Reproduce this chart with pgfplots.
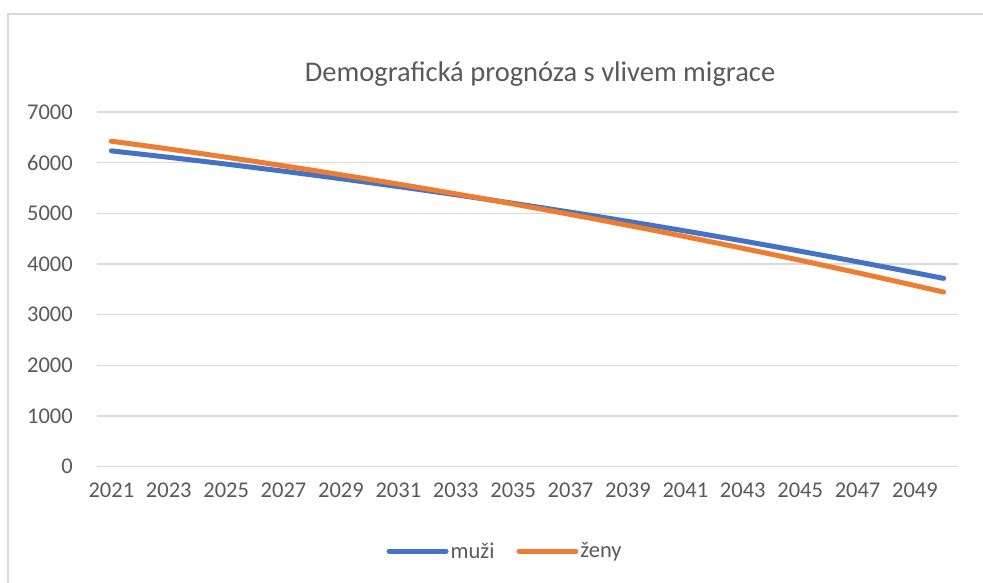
\documentclass[border=0pt]{standalone}
\usepackage{fontspec}
\setmainfont{Carlito}
\usepackage{pgfplots}
\pgfplotsset{compat=1.18}
\definecolor{muzi}{HTML}{4472C4}
\definecolor{zeny}{HTML}{ED7D31}
\definecolor{gridc}{HTML}{D9D9D9}
\definecolor{txt}{HTML}{595959}
\begin{document}
\begin{tikzpicture}[x=1pt,y=1pt]
\path[use as bounding box] (0,0) rectangle (983,583);
\draw[gridc, line width=1.5pt] (8,0) -- (8,569) -- (983,569);
\node[anchor=base, text=txt, font=\fontsize{28.5}{34}\selectfont] at (540,501) {Demografická prognóza s vlivem migrace};
\begin{axis}[
  at={(97pt,116.3pt)}, anchor=south west,
  scale only axis, width=861pt, height=354.7pt,
  xmin=2020.5, xmax=2050.5, ymin=0, ymax=7000,
  xtick={2021,2023,...,2049}, ytick={0,1000,...,7000},
  axis line style={draw=none},
  major tick length=0pt,
  ymajorgrids, grid style={gridc, line width=1.2pt},
  /pgf/number format/assume math mode=true,
  /pgf/number format/1000 sep={},
  tick label style={text=txt, font=\fontsize{22.5}{27}\selectfont},
  yticklabel style={inner sep=0pt, xshift=-24pt},
  xticklabel style={inner sep=0pt, yshift=-16pt},
  legend style={at={(0.474,-0.238)}, anchor=center, draw=none, fill=none,
    legend columns=2, font=\fontsize{22.5}{27}\selectfont, text=txt,
    /tikz/every even column/.append style={column sep=20pt},
    inner sep=0pt},
  legend image code/.code={\draw[#1, line cap=round] (0pt,0pt) -- (57pt,0pt);},
  legend cell align=left,
]
\addplot[muzi, line width=5pt, line cap=round, line join=round] coordinates {
(2021,6233) (2022,6170) (2023,6106) (2024,6040) (2025,5972) (2026,5902)
(2027,5831) (2028,5758) (2029,5683) (2030,5606) (2031,5528) (2032,5448)
(2033,5367) (2034,5283) (2035,5198) (2036,5111) (2037,5023) (2038,4933)
(2039,4841) (2040,4747) (2041,4652) (2042,4555) (2043,4456) (2044,4355)
(2045,4253) (2046,4149) (2047,4044) (2048,3936) (2049,3827) (2050,3716)
};
\addlegendentry{muži}
\addplot[zeny, line width=5pt, line cap=round, line join=round] coordinates {
(2021,6424) (2022,6348) (2023,6270) (2024,6190) (2025,6108) (2026,6024)
(2027,5938) (2028,5851) (2029,5761) (2030,5670) (2031,5577) (2032,5482)
(2033,5385) (2034,5286) (2035,5185) (2036,5082) (2037,4978) (2038,4871)
(2039,4763) (2040,4653) (2041,4540) (2042,4426) (2043,4310) (2044,4193)
(2045,4073) (2046,3951) (2047,3828) (2048,3702) (2049,3575) (2050,3446)
};
\addlegendentry{ženy}
\end{axis}
\end{tikzpicture}
\end{document}
